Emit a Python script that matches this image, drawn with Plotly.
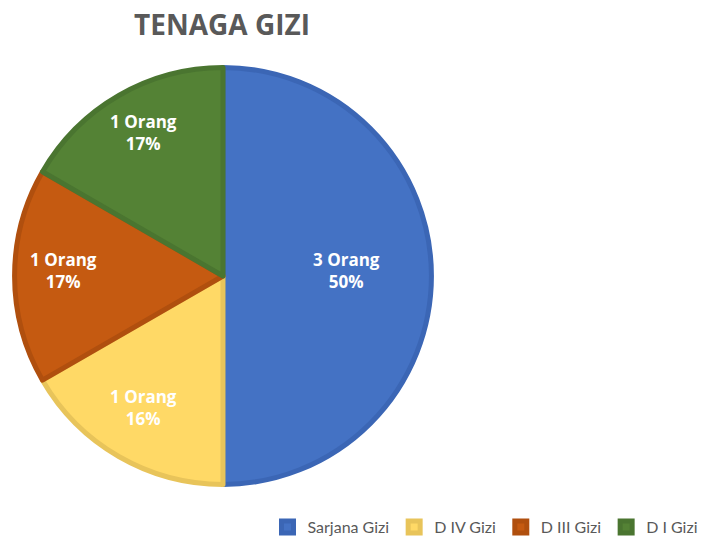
import math
import plotly.graph_objects as go

labels = ["Sarjana Gizi", "D IV Gizi", "D III Gizi", "D I Gizi"]
counts = [3, 1, 1, 1]
pct_labels = ["50%", "16%", "17%", "17%"]

fill_colors = ["#4472C4", "#FFD966", "#C55A11", "#548235"]
edge_colors = ["#3B66B5", "#E8C45A", "#B04F0E", "#4A7530"]

slice_text = [f"{c} Orang<br>{p}" for c, p in zip(counts, pct_labels)]

# page body has an 8px margin, so the figure is drawn 8px smaller and shifted
OFF = 8
W, H = 707 - OFF, 544 - OFF
# pie placement in (screen) pixels
cx, cy, R = 223 - OFF, 278 - OFF, 210

fig = go.Figure()

fig.add_trace(go.Pie(
    labels=labels,
    values=counts,
    textinfo="none",
    hoverinfo="label+value+percent",
    sort=False,
    direction="clockwise",
    rotation=0,
    marker=dict(colors=fill_colors, line=dict(color=edge_colors, width=5)),
    domain=dict(x=[(cx - R) / W, (cx + R) / W], y=[1 - (cy + R) / H, 1 - (cy - R) / H]),
))

# data labels placed Excel-style along each slice's mid angle
total = sum(counts)
start = 0.0
for c, txt in zip(counts, slice_text):
    frac = c / total
    mid = (start + frac / 2) * 2 * math.pi
    start += frac
    r = 0.59 if frac >= 0.4 else 0.76
    px = cx + r * R * math.sin(mid)
    py = cy - r * R * math.cos(mid) - 6
    fig.add_annotation(
        x=px / W, y=1 - py / H, xref="paper", yref="paper",
        xanchor="center", yanchor="middle",
        text=txt, showarrow=False,
        font=dict(family="Open Sans", size=17, color="white", weight="bold"),
        align="center",
    )

fig.update_layout(
    width=W,
    height=H,
    title=dict(
        text="<b>TENAGA GIZI</b>",
        font=dict(family="Open Sans", size=28, color="#595959"),
        x=(222 - OFF) / W,
        xanchor="center",
        y=1 - (25 - OFF) / H,
        yanchor="middle",
    ),
    showlegend=True,
    legend=dict(
        orientation="h",
        x=0.995,
        xanchor="right",
        y=1 - (531 - OFF) / H,
        yanchor="middle",
        font=dict(family="Lato", size=16, color="#595959"),
        itemwidth=30,
        traceorder="normal",
    ),
    margin=dict(l=0, r=0, t=0, b=0),
    paper_bgcolor="white",
    plot_bgcolor="white",
)

fig.write_html("out.html")
